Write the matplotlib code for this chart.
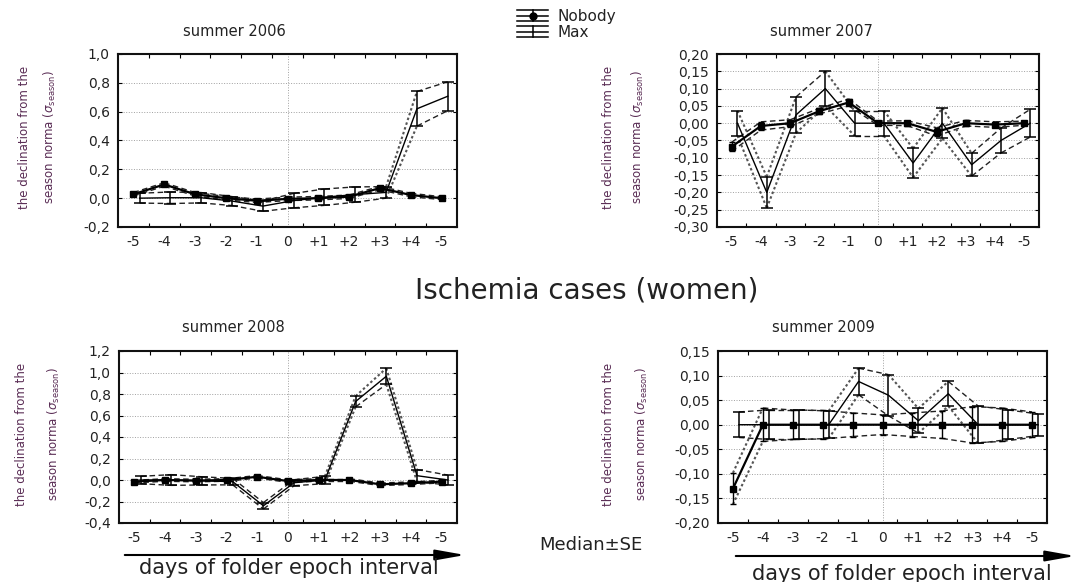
import numpy as np
import matplotlib
matplotlib.use('Agg')
import matplotlib.pyplot as plt
from matplotlib.lines import Line2D
from matplotlib.legend_handler import HandlerBase
from matplotlib.patches import FancyArrowPatch
from matplotlib.ticker import FuncFormatter

plt.rcParams['font.family'] = ['DejaVu Sans']

# ---------------- data ----------------
days = ['-5', '-4', '-3', '-2', '-1', '0', '+1', '+2', '+3', '+4', '-5']
series_names = ['Nobody', 'Max']
titles = ['summer 2006', 'summer 2007', 'summer 2008', 'summer 2009']

nobody_2006 = [0.027, 0.095, 0.027, 0.0, -0.018, -0.005, 0.0, 0.01, 0.07, 0.022, 0.0]
nobody_se_2006 = [0.012, 0.012, 0.012, 0.012, 0.012, 0.012, 0.012, 0.012, 0.012, 0.012, 0.01]
max_2006 = [0.0, 0.003, 0.003, -0.02, -0.055, -0.017, 0.007, 0.025, 0.04, 0.62, 0.707]
max_se_2006 = [0.034, 0.04, 0.036, 0.031, 0.036, 0.05, 0.057, 0.053, 0.04, 0.12, 0.1]

nobody_2007 = [-0.068, -0.008, 0.0, 0.035, 0.06, 0.0, 0.0, -0.025, 0.0, -0.004, 0.0]
nobody_se_2007 = [0.013, 0.012, 0.01, 0.008, 0.01, 0.006, 0.007, 0.012, 0.008, 0.008, 0.006]
max_2007 = [0.0, -0.2, 0.024, 0.1, 0.0, 0.0, -0.115, 0.0, -0.12, -0.05, 0.0]
max_se_2007 = [0.036, 0.045, 0.052, 0.05, 0.036, 0.036, 0.042, 0.044, 0.033, 0.036, 0.04]

nobody_2008 = [-0.015, 0.0, -0.005, 0.0, 0.03, -0.01, 0.0, 0.0, -0.04, -0.03, -0.015]
nobody_se_2008 = [0.012, 0.012, 0.012, 0.012, 0.012, 0.012, 0.012, 0.012, 0.012, 0.012, 0.012]
max_2008 = [0.0, 0.0, -0.008, -0.015, -0.24, -0.025, 0.0, 0.73, 0.965, 0.04, 0.0]
max_se_2008 = [0.034, 0.05, 0.038, 0.03, 0.03, 0.028, 0.034, 0.05, 0.075, 0.057, 0.046]

nobody_2009 = [-0.13, 0.0, 0.0, 0.0, 0.0, 0.0, 0.0, 0.0, 0.0, 0.0, 0.0]
nobody_se_2009 = [0.032, 0.034, 0.03, 0.029, 0.024, 0.02, 0.024, 0.028, 0.037, 0.034, 0.026]
max_2009 = [0.0, 0.0, 0.0, 0.0, 0.088, 0.06, 0.008, 0.063, 0.0, 0.0, 0.0]
max_se_2009 = [0.026, 0.03, 0.03, 0.028, 0.027, 0.042, 0.025, 0.025, 0.038, 0.03, 0.022]

# ---------------- layout ----------------
W, H = 1080, 582
fig = plt.figure(figsize=(W / 100, H / 100), dpi=100)


def px_rect(x0, y0, x1, y1):
    return [x0 / W, 1 - y1 / H, (x1 - x0) / W, (y1 - y0) / H]


def fx(x):
    return x / W


def fy(y):
    return 1 - y / H


panels = [
    dict(title=titles[0], nb=nobody_2006, nbse=nobody_se_2006, mx=max_2006, mxse=max_se_2006,
         ylim=(-0.2, 1.0), step=0.2, dec=1, rect=(118, 54, 457, 227), tpos=(234, 31),
         ylx=(25, 50)),
    dict(title=titles[1], nb=nobody_2007, nbse=nobody_se_2007, mx=max_2007, mxse=max_se_2007,
         ylim=(-0.30, 0.20), step=0.05, dec=2, rect=(717, 54, 1039, 227), tpos=(821, 31),
         ylx=(608, 638)),
    dict(title=titles[2], nb=nobody_2008, nbse=nobody_se_2008, mx=max_2008, mxse=max_se_2008,
         ylim=(-0.4, 1.2), step=0.2, dec=1, rect=(119, 351, 457, 523), tpos=(233, 327),
         ylx=(22, 54)),
    dict(title=titles[3], nb=nobody_2009, nbse=nobody_se_2009, mx=max_2009, mxse=max_se_2009,
         ylim=(-0.20, 0.15), step=0.05, dec=2, rect=(718, 351, 1047, 523), tpos=(823, 327),
         ylx=(609, 642)),
]

TXT = '#222222'
YLC = '#5a2d55'


def make_fmt(dec):
    def f(v, pos):
        if abs(v) < 1e-9:
            v = 0.0
        return f'{v:.{dec}f}'.replace('.', ',')
    return FuncFormatter(f)


def draw_envelope(ax, x, y, z=2):
    pts = ax.transData.transform(np.column_stack([x, y]))
    for i in range(len(x) - 1):
        dx = pts[i + 1, 0] - pts[i, 0]
        dy = pts[i + 1, 1] - pts[i, 1]
        if abs(dy) > 0.9 * abs(dx):
            ax.plot(x[i:i + 2], y[i:i + 2], color='#555555', lw=1.5,
                    linestyle=(0, (1.2, 1.2)), zorder=z)
        else:
            ax.plot(x[i:i + 2], y[i:i + 2], color='#222222', lw=1.0,
                    linestyle=(0, (4, 2.5)), zorder=z)


x = np.arange(len(days))
for p in panels:
    ax = fig.add_axes(px_rect(*p['rect']))
    ax.set_xlim(-0.5, len(days) - 0.5)
    ax.set_ylim(*p['ylim'])
    yt = np.arange(p['ylim'][0], p['ylim'][1] + p['step'] / 2, p['step'])
    ax.set_yticks(yt)
    ax.yaxis.set_major_formatter(make_fmt(p['dec']))
    ax.set_xticks(x)
    ax.set_xticklabels(days)
    ax.set_xticks(np.arange(0.5, len(days) - 1, 1), minor=True)
    ax.tick_params(axis='x', which='major', length=0, pad=6, labelsize=10, labelcolor=TXT)
    ax.tick_params(axis='x', which='minor', length=3, width=0.8, direction='in',
                   top=True, bottom=True)
    ax.tick_params(axis='y', which='major', length=3, width=0.8, direction='in',
                   left=True, right=True, labelsize=10, pad=6, labelcolor=TXT)
    ax.yaxis.grid(True, linestyle=':', color='#a0a0a0', lw=0.7)
    ax.axvline(5, linestyle=':', color='#a0a0a0', lw=0.7, zorder=0)
    for s in ax.spines.values():
        s.set_linewidth(1.5)
        s.set_color('#111111')

    nb = np.array(p['nb'])
    nbse = np.array(p['nbse'])
    mx = np.array(p['mx'])
    mxse = np.array(p['mxse'])
    xn = x + 0.0
    xm = x + 0.2

    draw_envelope(ax, xn, nb + nbse)
    draw_envelope(ax, xn, nb - nbse)
    draw_envelope(ax, xm, mx + mxse)
    draw_envelope(ax, xm, mx - mxse)

    ax.plot(xm, mx, color='k', lw=1.0, zorder=4)
    ax.errorbar(xm, mx, yerr=mxse, fmt='none', ecolor='k', elinewidth=1.1,
                capsize=4.5, capthick=1.1, zorder=5)
    ax.plot(xn, nb, color='k', lw=1.6, marker='s', ms=4.5, zorder=6)
    ax.errorbar(xn, nb, yerr=nbse, fmt='none', ecolor='k', elinewidth=1.0,
                capsize=2.5, capthick=1.0, zorder=6)

    fig.text(fx(p['tpos'][0]), fy(p['tpos'][1]), p['title'], ha='center', va='center',
             fontsize=10.5, color=TXT)
    yc = fy((p['rect'][1] + p['rect'][3]) / 2 - 3)
    fig.text(fx(p['ylx'][0]), yc, 'the declination from the', rotation=90,
             ha='center', va='center', fontsize=8.5, color=YLC)
    fig.text(fx(p['ylx'][1]), yc, r'season norma ($\sigma_{\mathregular{season}}$)',
             rotation=90, ha='center', va='center', fontsize=8.5, color=YLC)

# ---------------- legend ----------------
class EBHandler(HandlerBase):
    def __init__(self, marker=None):
        super().__init__()
        self.marker = marker

    def create_artists(self, legend, orig_handle, xdescent, ydescent, width, height,
                       fontsize, trans):
        cy = height / 2 - ydescent
        cx = width / 2 - xdescent
        h = 0.36 * fontsize
        arts = []
        for d in (-h, 0, h):
            arts.append(Line2D([-xdescent, width - xdescent], [cy + d, cy + d],
                               color='k', lw=1.1, transform=trans))
        arts.append(Line2D([cx, cx], [cy - h, cy + h], color='k', lw=1.1, transform=trans))
        if self.marker:
            arts.append(Line2D([cx], [cy], marker=self.marker, ms=5, color='k',
                               linestyle='none', transform=trans))
        return arts


h_nb = Line2D([], [], label=series_names[0])
h_mx = Line2D([], [], label=series_names[1])
fig.legend(handles=[h_nb, h_mx], labels=series_names,
           handler_map={h_nb: EBHandler('o'), h_mx: EBHandler(None)},
           loc='center left', bbox_to_anchor=(fx(517), fy(24.5)), frameon=False,
           fontsize=11, handlelength=2.03, handletextpad=0.6, labelspacing=0.05,
           borderpad=0, borderaxespad=0, labelcolor=TXT)

# ---------------- texts and arrows ----------------
fig.text(fx(587), fy(290), 'Ischemia cases (women)', ha='center', va='center',
         fontsize=20, color=TXT)
fig.text(fx(591), fy(545), 'Median±SE', ha='center', va='center', fontsize=13, color=TXT)
fig.text(fx(289), fy(568), 'days of folder epoch interval', ha='center', va='center',
         fontsize=15, color=TXT)
fig.text(fx(902), fy(574), 'days of folder epoch interval', ha='center', va='center',
         fontsize=15, color=TXT)

for (x0, x1, yy) in [(122, 468, 555), (733, 1078, 556)]:
    arr = FancyArrowPatch((fx(x0), fy(yy)), (fx(x1), fy(yy)), transform=fig.transFigure,
                          arrowstyle='-|>,head_length=1.8,head_width=0.32',
                          mutation_scale=10, lw=1.5, color='k')
    fig.add_artist(arr)

fig.savefig('out.png', dpi=100)
